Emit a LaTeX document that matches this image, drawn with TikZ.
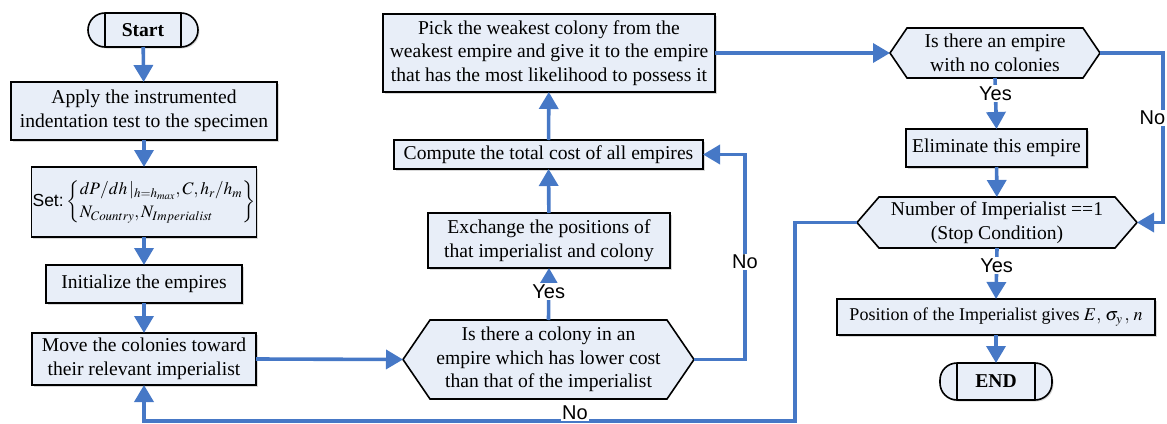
\documentclass[tikz,border=0pt]{standalone}
\usepackage{mathptmx}
\usepackage{fontspec}
\setmainfont{Liberation Serif}
\setsansfont{Liberation Sans}
\usetikzlibrary{arrows.meta,backgrounds,shadows}
\definecolor{arrowblue}{RGB}{70,120,198}
\definecolor{boxfill}{RGB}{232,238,248}
\newcommand{\boxfont}{\fontsize{19.6}{23.5}\selectfont}
\newcommand{\labfont}{\sffamily\fontsize{20}{22}\selectfont}
\newcommand{\hexdraw}[2]{%
  \begin{scope}[on background layer]
    \draw[line width=1.6pt, fill=boxfill] (#1.west) -- ([xshift=#2]#1.north west) -- ([xshift=-#2]#1.north east) -- (#1.east) -- ([xshift=-#2]#1.south east) -- ([xshift=#2]#1.south west) -- cycle;
  \end{scope}}
\newcommand{\termbars}[1]{%
  \draw[line width=1.6pt] ([xshift=17pt]#1.north west) -- ([xshift=17pt]#1.south west);
  \draw[line width=1.6pt] ([xshift=-17pt]#1.north east) -- ([xshift=-17pt]#1.south east);}
\tikzset{
  box/.style={draw=black, line width=1.6pt, fill=boxfill, align=center, inner sep=1pt, outer sep=0pt, font=\boxfont,
    drop shadow={shadow xshift=1.5pt, shadow yshift=-1.5pt, opacity=0.3, fill=gray}},
  termbox/.style={box, rounded corners=17pt, font=\boxfont\bfseries},
  hextxt/.style={align=center, inner sep=0pt, outer sep=0pt, font=\boxfont},
  flow/.style={draw=arrowblue, line width=3.6pt, -{Triangle[width=19pt,length=17pt]}},
  lab/.style={font=\labfont, fill=white, inner sep=1.5pt}
}
\begin{document}
\begin{tikzpicture}[x=1pt,y=-1pt]
\useasboundingbox (0,0) rectangle (1167,423);
% left column
\node[termbox, minimum width=110pt, minimum height=34pt] (start) at (143,30) {Start};
\termbars{start}
\node[box, minimum width=266pt, minimum height=58pt] (apply) at (144,111) {Apply the instrumented\\indentation test to the specimen};
\node[box, minimum width=224pt, minimum height=70pt, font=\fontsize{17.5}{21}\selectfont] (set) at (144,202)
  {{\sffamily Set:}\,$\left\{\begin{array}{@{}l@{}}dP/dh\,|_{h=h_{max}},C,h_r/h_m\\[2pt] N_{Country},N_{Imperialist}\end{array}\right\}$};
\node[box, minimum width=196pt, minimum height=38pt] (init) at (144,284) {Initialize the empires};
\node[box, minimum width=224pt, minimum height=52pt] (move) at (144,359) {Move the colonies toward\\their relevant imperialist};
% middle column
\node[hextxt, minimum width=291pt, minimum height=79pt] (hex1) at (548.5,359.5) {Is there a colony in an\\empire which has lower cost\\than that of the imperialist};
\hexdraw{hex1}{27pt}
\node[box, minimum width=242pt, minimum height=55pt] (exch) at (549,240.5) {Exchange the positions of\\that imperialist and colony};
\node[box, minimum width=309pt, minimum height=29pt] (comp) at (548.5,154.5) {Compute the total cost of all empires};
\node[box, minimum width=332pt, minimum height=78pt] (pick) at (549,53) {Pick the weakest colony from the\\weakest empire and give it to the empire\\that has the most likelihood to possess it};
% right column
\node[hextxt, minimum width=210pt, minimum height=50pt] (hex2) at (995,53) {Is there an empire\\with no colonies};
\hexdraw{hex2}{17pt}
\node[box, minimum width=181pt, minimum height=38pt] (elim) at (996.5,148) {Eliminate this empire};
\node[hextxt, minimum width=280pt, minimum height=51pt] (hex3) at (997,222.5) {Number of Imperialist ==1\\(Stop Condition)};
\hexdraw{hex3}{22pt}
\node[box, minimum width=318pt, minimum height=36pt, font=\fontsize{18}{22}\selectfont] (pos) at (996,317) {Position of the Imperialist gives $E,\,\sigma_{y}\,,\,n$};
\node[termbox, minimum width=112pt, minimum height=37pt] (end) at (996,381.5) {END};
\termbars{end}
% coordinates for loops
\coordinate (rloop1) at (745,0);
\coordinate (rloop2) at (1163,0);
\coordinate (bloop) at (795,421);
% connectors
\draw[flow] (start) -- (apply);
\draw[flow] (apply) -- (set);
\draw[flow] (set) -- (init);
\draw[flow] (init) -- (move);
\draw[flow] (move.east) -- (hex1.west);
\draw[flow] (hex1.north) -- node[lab, pos=0.55] {Yes} (exch.south);
\draw[flow] (exch) -- (comp);
\draw[flow] (comp) -- (pick);
\draw[flow] (hex1.east) -- (hex1.east -| rloop1) -- (comp.east -| rloop1) -- (comp.east);
\node[lab] (no1) at (745,262) {No};
\draw[flow] (pick.east) -- (hex2.west);
\draw[flow] (hex2.south) -- node[lab, pos=0.3] {Yes} (elim.north);
\draw[flow] (elim) -- (hex3);
\draw[flow] (hex2.east) -- (hex2.east -| rloop2) -- (hex3.east -| rloop2) -- (hex3.east);
\node[lab, anchor=east] (no2) at (1167,118) {No};
\draw[flow] (hex3.south) -- node[lab, pos=0.35] {Yes} (pos.north);
\draw[flow] (pos) -- (end);
\draw[flow] (hex3.west) -- (hex3.west -| bloop) -- (bloop) -- (bloop -| move) -- (move.south);
\node[lab, anchor=south, inner sep=1pt] (no3) at (575,421) {No};
\end{tikzpicture}
\end{document}
